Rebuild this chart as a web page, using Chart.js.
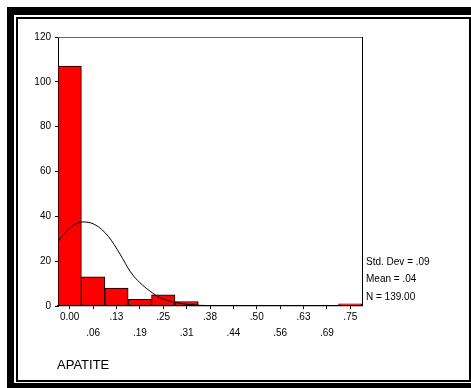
<!DOCTYPE html>
<html>
<head>
<meta charset="utf-8">
<script src="https://cdn.jsdelivr.net/npm/chart.js@4.4.1/dist/chart.umd.min.js"></script>
<style>
    body { margin: 0; width: 471px; height: 388px; overflow: hidden; background: #fff; font-family: "Liberation Sans", Arial, sans-serif; }
    .box { position: absolute; box-sizing: border-box; }
    #k1 { left: 7px; top: 7px; width: 480px; height: 400px; background: #000; }
    #k2 { left: 14px; top: 15px; width: 470px; height: 368px; background: #fff; }
    #k3 { left: 16px; top: 17px; width: 455px; height: 365px; border: 2px solid #000; background: #fff; }
    #wrap { position: absolute; left: 0; top: 0; width: 471px; height: 388px; }
    .txt { position: absolute; color: #000; white-space: nowrap; }
    .stat { left: 366px; font-size: 10px; line-height: 12px; }
    #varname { left: 57px; top: 357px; font-size: 13px; line-height: 16px; }
</style>
</head>
<body>
<div class="box" id="k1"></div>
<div class="box" id="k2"></div>
<div class="box" id="k3"></div>
<div id="wrap"><canvas id="hist" width="471" height="388"></canvas></div>
<div class="txt stat" style="top:256px">Std. Dev = .09</div>
<div class="txt stat" style="top:273px">Mean = .04</div>
<div class="txt stat" style="top:291px">N = 139.00</div>
<div class="txt" id="varname">APATITE</div>
<script>
// bins of APATITE
var binLabels = ['0.00', '.06', '.13', '.19', '.25', '.31', '.38', '.44', '.50', '.56', '.63', '.69', '.75'];
var counts = [107, 13, 8, 3, 5, 2, 0, 0, 0, 0, 0, 0, 1];

// normal curve (x in bin units)
var curveX = [-0.5, 0, 0.57, 1.08, 1.65, 2.15, 2.6, 3.0, 3.43, 3.86, 4.29, 4.72, 5.14, 5.57, 6.43, 8, 12.5];
var curveY = [28.8, 34.8, 37.5, 36.3, 31.1, 23.2, 15.2, 10.4, 6.7, 3.7, 2.2, 1.2, 0.6, 0.3, 0.1, 0, 0];

var yMin = 0, yMax = 120, yStep = 20;

var font = { family: '"Liberation Sans", Arial, sans-serif', size: 10 };

var frame = {
    id: 'frame',
    afterDraw: function(chart) {
        var a = chart.chartArea, ctx = chart.ctx;
        ctx.save();
        ctx.lineWidth = 1;
        ctx.strokeStyle = '#666';
        ctx.beginPath();
        ctx.moveTo(a.left, a.top + 0.5);
        ctx.lineTo(a.right, a.top + 0.5);
        ctx.stroke();
        ctx.strokeStyle = '#000';
        ctx.beginPath();
        ctx.moveTo(a.right + 0.5, a.top);
        ctx.lineTo(a.right + 0.5, a.bottom);
        ctx.stroke();
        ctx.restore();
    }
};

new Chart(document.getElementById('hist'), {
    type: 'bar',
    data: {
        datasets: [{
            type: 'line',
            data: curveX.map(function(x, i){ return { x: x, y: curveY[i] }; }),
            borderColor: '#000',
            borderWidth: 1,
            pointRadius: 0,
            fill: false,
            cubicInterpolationMode: 'monotone'
        }, {
            type: 'bar',
            data: counts.map(function(c, i){ return { x: i, y: c }; }),
            backgroundColor: '#ff0000',
            borderColor: '#000',
            borderWidth: 1,
            borderSkipped: false,
            barPercentage: 1,
            categoryPercentage: 1
        }]
    },
    options: {
        responsive: false,
        animation: false,
        layout: { padding: { left: 18, top: 37, right: 109, bottom: 42 } },
        plugins: { legend: { display: false }, tooltip: { enabled: false } },
        scales: {
            x: {
                type: 'linear',
                offset: false,
                min: -0.5,
                max: binLabels.length - 0.5,
                afterBuildTicks: function(scale) {
                    scale.ticks = binLabels.map(function(l, i){ return { value: i }; });
                },
                afterFit: function(scale) { scale.height = 40; },
                grid: { offset: false, drawOnChartArea: false, drawTicks: true, tickLength: 3, color: '#000' },
                border: { color: '#000', width: 1.3 },
                ticks: {
                    autoSkip: false,
                    maxRotation: 0,
                    padding: 0,
                    color: '#000',
                    font: { family: font.family, size: 10, lineHeight: 1.6 },
                    callback: function(v) {
                        var l = binLabels[Math.round(v)];
                        return Math.round(v) % 2 === 0 ? [l] : ['', l];
                    }
                }
            },
            y: {
                min: yMin,
                max: yMax,
                afterFit: function(scale) { scale.width = 40; },
                grid: { drawOnChartArea: false, drawTicks: true, tickLength: 3, color: '#000' },
                border: { color: '#000', width: 1 },
                ticks: { stepSize: yStep, padding: 4, color: '#000', font: font }
            }
        }
    },
    plugins: [frame]
});
</script>
</body>
</html>
